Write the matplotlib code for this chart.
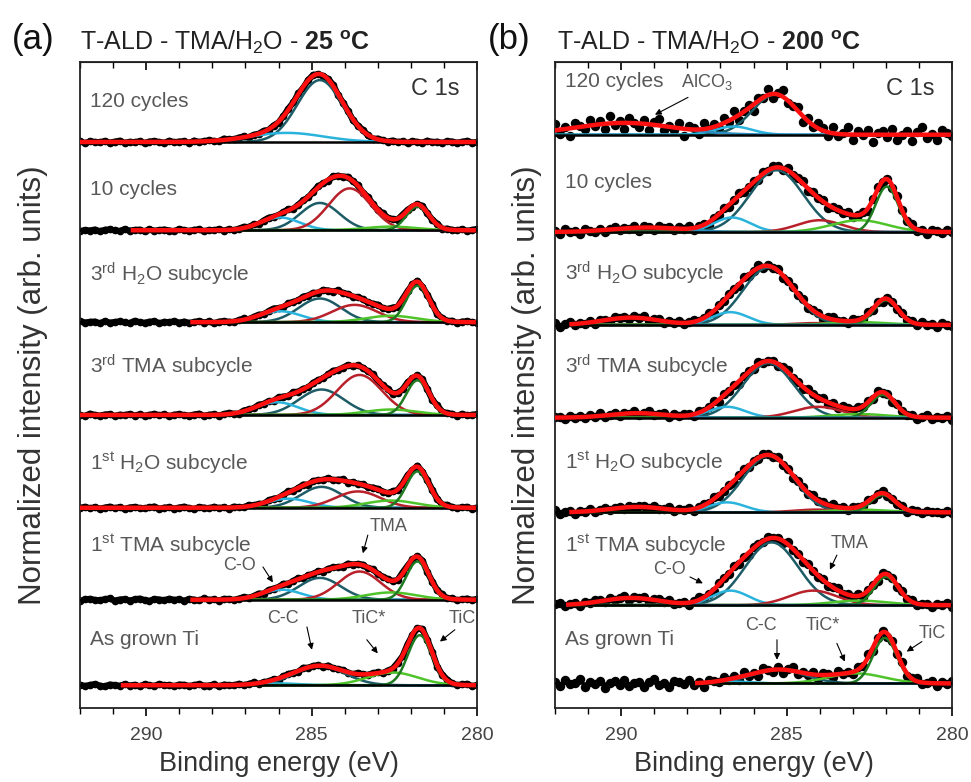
import numpy as np
import matplotlib.pyplot as plt
from matplotlib.ticker import MultipleLocator

plt.rcParams['font.family'] = ['Liberation Sans', 'DejaVu Sans']
plt.rcParams['mathtext.fontset'] = 'custom'
plt.rcParams['mathtext.rm'] = 'Liberation Sans'
plt.rcParams['mathtext.it'] = 'Liberation Sans:italic'
plt.rcParams['mathtext.bf'] = 'Liberation Sans:bold'

# spectra from bottom to top
spectra = ['As grown Ti', r'1$^{\rm st}$ TMA subcycle', r'1$^{\rm st}$ H$_2$O subcycle',
           r'3$^{\rm rd}$ TMA subcycle', r'3$^{\rm rd}$ H$_2$O subcycle', '10 cycles', '120 cycles']
components = ['C-C', 'C-O', 'TMA', 'TiC*', 'TiC', 'AlCO3']
comp_colors = ['#1d5c66', '#2ab3dc', '#b8202a', '#4ec42a', '#1f7a22', '#2a8fc0']

# (a) 25 C : rows = components, columns = spectra
pos_a = [[284.75, 284.75, 284.7, 284.7, 284.75, 284.75, 284.75],
         [286.0, 285.9, 285.7, 286.05, 285.95, 285.95, 285.75],
         [283.6, 283.55, 283.6, 283.55, 283.7, 283.85, 283.6],
         [282.55, 282.6, 282.6, 282.6, 282.6, 282.6, 282.6],
         [281.73, 281.8, 281.8, 281.8, 281.8, 281.8, 281.8],
         [289.5, 289.5, 289.5, 289.5, 289.5, 289.5, 289.5]]
height_a = [[0.21, 0.24, 0.23, 0.28, 0.26, 0.30, 0.68],
            [0.02, 0.11, 0.10, 0.14, 0.12, 0.14, 0.10],
            [0.0, 0.31, 0.18, 0.44, 0.19, 0.46, 0.0],
            [0.14, 0.08, 0.08, 0.06, 0.07, 0.04, 0.0],
            [0.55, 0.42, 0.40, 0.38, 0.40, 0.26, 0.0],
            [0.0, 0.0, 0.0, 0.0, 0.0, 0.0, 0.0]]
fwhm_a = [[1.8, 1.5, 1.5, 1.6, 1.5, 1.4, 1.6],
          [1.5, 1.4, 1.5, 1.5, 1.5, 1.4, 2.6],
          [1.5, 1.5, 1.6, 1.6, 1.6, 1.5, 1.5],
          [1.8, 1.8, 1.8, 1.8, 1.8, 1.8, 1.8],
          [0.85, 0.8, 0.8, 0.8, 0.8, 0.8, 0.8],
          [2.0, 2.0, 2.0, 2.0, 2.0, 2.0, 2.0]]
fit_start_a = [290.7, 288.6, 292.0, 292.0, 288.6, 290.4, 292.0]

# (b) 200 C
pos_b = [[285.25, 285.45, 285.55, 285.55, 285.55, 285.3, 285.35],
         [286.6, 286.7, 286.8, 286.8, 286.7, 286.65, 286.6],
         [284.2, 284.2, 284.1, 284.05, 284.1, 284.0, 284.0],
         [282.9, 282.8, 282.8, 282.8, 282.8, 282.8, 282.8],
         [282.03, 282.0, 282.1, 282.1, 282.0, 281.97, 282.0],
         [289.5, 289.7, 289.5, 289.5, 289.7, 289.2, 289.9]]
height_b = [[0.15, 0.69, 0.62, 0.60, 0.63, 0.68, 0.44],
            [0.02, 0.16, 0.11, 0.12, 0.14, 0.16, 0.09],
            [0.0, 0.16, 0.03, 0.12, 0.02, 0.13, 0.0],
            [0.11, 0.05, 0.03, 0.04, 0.03, 0.13, 0.0],
            [0.50, 0.31, 0.19, 0.25, 0.27, 0.50, 0.0],
            [0.0, 0.08, 0.06, 0.05, 0.08, 0.05, 0.13]]
fwhm_b = [[1.9, 1.9, 1.8, 1.8, 1.8, 1.9, 1.6],
          [1.3, 1.3, 1.3, 1.3, 1.3, 1.3, 1.3],
          [1.6, 1.7, 1.6, 1.7, 1.6, 1.6, 1.6],
          [2.0, 2.0, 2.0, 2.0, 2.0, 2.0, 2.0],
          [0.85, 0.85, 0.85, 0.85, 0.85, 0.8, 0.85],
          [2.0, 2.0, 2.0, 2.0, 2.0, 2.5, 3.5]]
fit_start_b = [287.7, 291.6, 291.5, 292.0, 291.5, 292.0, 292.0]

noise_a = [0.4, -0.6, 0.2, 0.8, -0.3, -0.9, 0.5, 0.1, -0.4, 0.7, -0.2, 0.3, -0.8, 0.6, 0.0,
           -0.5, 0.9, -0.1, 0.2, -0.7, 0.5, 0.3, -0.6, 0.1, 0.8, -0.4, -0.2, 0.6, -0.9, 0.4,
           0.0, -0.3, 0.7, -0.5, 0.2, 0.9, -0.7, 0.1, -0.2, 0.5, -0.8, 0.3, 0.6, -0.1, -0.6,
           0.8, -0.3, 0.2, 0.4, -0.9, 0.7, -0.4, 0.1, 0.5, -0.2, -0.7, 0.9, 0.0, -0.5, 0.3,
           0.6, -0.8, 0.2, -0.1, 0.7, -0.4, 0.4, -0.6, 0.1, 0.8, -0.3, 0.5, -0.9, 0.2, 0.6,
           -0.2, -0.5, 0.3, 0.9, -0.7, 0.1]
noise_b = [0.3, -0.5, 0.8, -0.2, 0.1, 0.9, -0.7, 0.4, -0.1, 0.6, -0.9, 0.2, 0.5, -0.3, 0.7,
           -0.6, 0.0, 0.4, -0.8, 0.3, 0.9, -0.4, 0.1, -0.7, 0.6, 0.2, -0.2, 0.8, -0.5, 0.3,
           -0.9, 0.5, 0.1, -0.3, 0.7, -0.1, 0.4, -0.6, 0.9, -0.2, 0.2, -0.8, 0.6, 0.0, -0.4,
           0.5, -0.7, 0.3, 0.8, -0.5, 0.1, -0.3, 0.6, -0.9, 0.4, 0.2, -0.6, 0.7, -0.1, 0.3,
           -0.4, 0.6, -0.2, 0.9, -0.6, 0.1, 0.4, -0.8, 0.3, -0.1, 0.7, -0.5, 0.2, 0.8, -0.3,
           0.0, 0.5, -0.7, 0.4, -0.2, 0.6]
noise_amp_a = [0.015, 0.015, 0.015, 0.015, 0.015, 0.015, 0.015]
noise_amp_b = [0.05, 0.03, 0.025, 0.03, 0.03, 0.035, 0.09]

# layout: baseline of each spectrum and label height above it
base_a = [0.25, 1.19, 2.20, 3.22, 4.24, 5.25, 6.22]
base_b = [0.27, 1.13, 2.15, 3.19, 4.21, 5.23, 6.30]
label_dy_a = [0.50, 0.60, 0.49, 0.53, 0.52, 0.45, 0.44]
label_dy_b = [0.48, 0.66, 0.55, 0.56, 0.57, 0.54, 0.58]

gray = '#585858'


def gauss(x, c, h, w):
    return h * np.exp(-4 * np.log(2) * ((x - c) / w) ** 2)


fig = plt.figure(figsize=(9.71, 7.82), dpi=100)
ax_a = fig.add_axes([80 / 971, 74 / 782, 397 / 971, 646 / 782])
ax_b = fig.add_axes([555 / 971, 74 / 782, 397 / 971, 646 / 782])

panels = [(ax_a, pos_a, height_a, fwhm_a, fit_start_a, noise_a, noise_amp_a, base_a, label_dy_a, True),
          (ax_b, pos_b, height_b, fwhm_b, fit_start_b, noise_b, noise_amp_b, base_b, label_dy_b, False)]

for ax, pos, hgt, fw, start, noise, amp, base, dy, dense in panels:
    xd = np.linspace(292, 280, len(noise))
    for k in range(len(spectra)):
        env_d = sum(gauss(xd, pos[c][k], hgt[c][k], fw[c][k]) for c in range(len(components)))
        yd = base[k] + env_d + amp[k] * np.roll(np.array(noise), 9 * k)
        ax.axhline(base[k], color='k', lw=1.8, zorder=3.5)
        if dense:
            ax.plot(xd, yd, '-o', color='k', lw=4.5, ms=4.5, zorder=1)
        else:
            ax.plot(xd, yd, 'o', color='k', ms=6.8, mec='none', zorder=1)
        xf = np.linspace(start[k], 280.1, 400)
        env = np.zeros_like(xf)
        for c in range(len(components)):
            if hgt[c][k] <= 0:
                continue
            g = gauss(xf, pos[c][k], hgt[c][k], fw[c][k])
            env += g
            ax.plot(xf, base[k] + g, color=comp_colors[c], lw=1.8, zorder=3)
        ax.plot(xf, base[k] + env, color='#ff1010', lw=3.2, zorder=4)
        ax.text(291.7, base[k] + dy[k], spectra[k], color=gray, fontsize=15, va='center')

    ax.set_xlim(292, 280)
    ax.set_ylim(0, 646 / 91)
    ax.xaxis.set_major_locator(MultipleLocator(5))
    ax.xaxis.set_minor_locator(MultipleLocator(1))
    ax.tick_params(axis='x', which='both', direction='out', top=False, labelsize=14,
                   labelcolor='#444444', pad=8)
    ax.tick_params(axis='x', which='major', length=6, width=1.2)
    ax.tick_params(axis='x', which='minor', length=4, width=1.0)
    ax.set_yticks([])
    for s in ax.spines.values():
        s.set_linewidth(1.3)
        s.set_color('#222222')
    # inward ticks on the top edge
    sec = ax.secondary_xaxis('top')
    sec.xaxis.set_major_locator(MultipleLocator(5))
    sec.xaxis.set_minor_locator(MultipleLocator(1))
    sec.tick_params(which='both', direction='in', labeltop=False)
    sec.tick_params(which='major', length=6, width=1.2)
    sec.tick_params(which='minor', length=4, width=1.0)
    ax.set_xlabel('Binding energy (eV)', fontsize=19.5, color='#333333', labelpad=5)
    ax.set_ylabel('Normalized intensity (arb. units)', fontsize=22.5, color='#333333')
    ax.text(281.25, 6.8, 'C 1s', fontsize=17, color='#333333', ha='center', va='center')

ax_a.yaxis.set_label_coords(-0.08, 0.5)
ax_b.yaxis.set_label_coords(-0.033, 0.5)

# peak annotations: (text, text position, arrow start, arrow tip)
notes_a = [('C-O', (287.17, 1.57), (286.47, 1.55), (286.17, 1.38)),
           ('TMA', (282.66, 1.99), (283.30, 1.90), (283.45, 1.70)),
           ('C-C', (285.87, 0.98), (285.14, 0.89), (284.99, 0.64)),
           ('TiC*', (283.27, 0.98), (283.33, 0.75), (283.00, 0.60)),
           ('TiC', (280.46, 0.98), (280.67, 0.86), (281.12, 0.73))]
notes_b = [('TMA', (283.09, 1.81), (283.48, 1.68), (283.69, 1.52)),
           ('C-O', (288.53, 1.52), (287.92, 1.44), (287.53, 1.37)),
           ('C-C', (285.78, 0.91), (285.29, 0.75), (285.29, 0.53)),
           ('TiC*', (283.90, 0.91), (283.48, 0.71), (283.24, 0.51)),
           ('TiC', (280.61, 0.82), (280.91, 0.73), (281.37, 0.62)),
           ('AlCO$_3$', (287.41, 6.88), (287.98, 6.71), (288.98, 6.52))]
for ax, notes in [(ax_a, notes_a), (ax_b, notes_b)]:
    for txt, tp, a0, a1 in notes:
        ax.text(tp[0], tp[1], txt, fontsize=13, color=gray, ha='center', va='center', zorder=6)
        ax.annotate('', xy=a1, xytext=a0,
                    arrowprops=dict(arrowstyle='-|>', color='k', lw=0.8, mutation_scale=9,
                                    shrinkA=0, shrinkB=0), zorder=6)

fig.text(12 / 971, 1 - 40 / 782, '(a)', fontsize=25, va='center', color='#111111')
fig.text(80 / 971, 1 - 42 / 782, r'T-ALD - TMA/H$_2$O - $\mathbf{25\ ^{o}C}$',
         fontsize=18, va='center', color='#222222')
fig.text(488 / 971, 1 - 40 / 782, '(b)', fontsize=25, va='center', color='#111111')
fig.text(557 / 971, 1 - 42 / 782, r'T-ALD - TMA/H$_2$O - $\mathbf{200\ ^{o}C}$',
         fontsize=18, va='center', color='#222222')

fig.savefig('out.png', dpi=100)
